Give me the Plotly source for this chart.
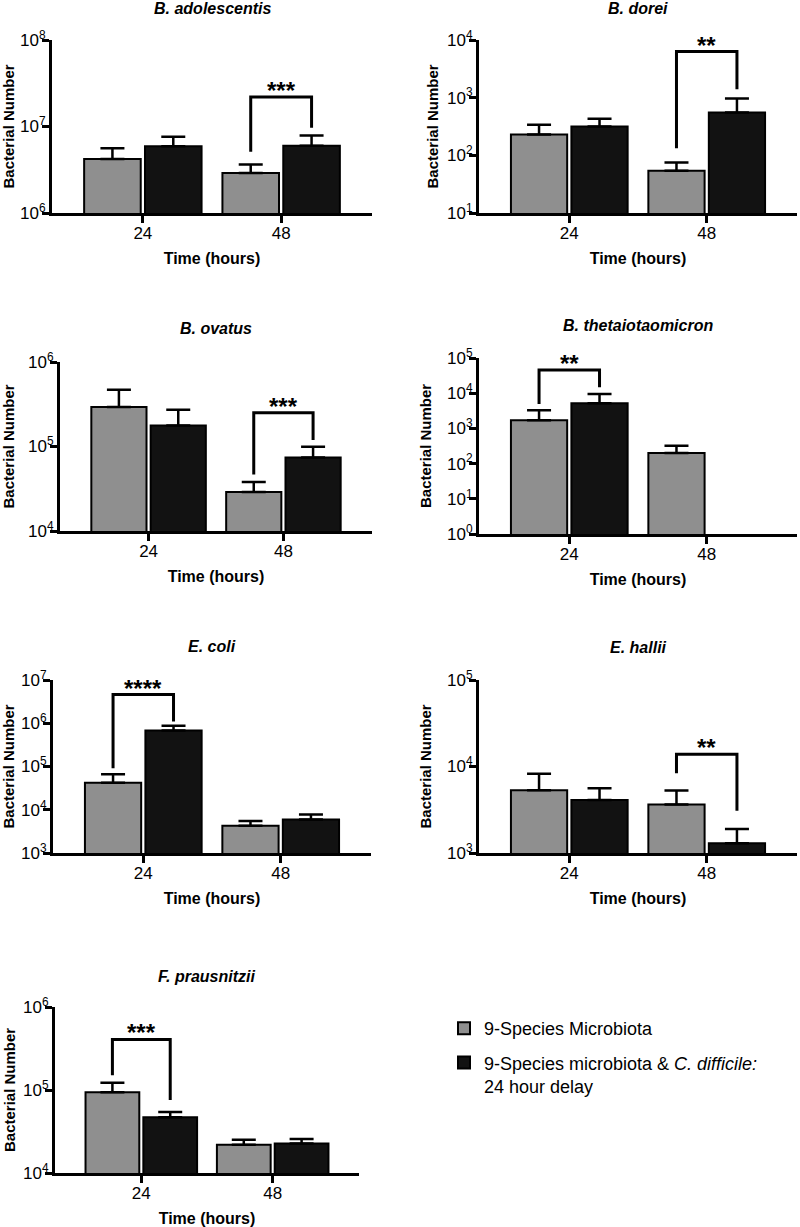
import math
import plotly.graph_objects as go

times = ["24", "48"]
species = ["B. adolescentis", "B. dorei", "B. ovatus", "B. thetaiotaomicron",
           "E. coli", "E. hallii", "F. prausnitzii"]

# 9-Species Microbiota (grey)
micro_mean = [[4.2e6, 2.9e6], [230, 54], [2.94e5, 2.9e4], [1700, 200],
              [42000, 4270], [5330, 3640], [93800, 21900]]
micro_err = [[1.4e6, 0.74e6], [108, 21], [1.76e5, 0.9e4], [1560, 123],
             [24500, 1200], [2900, 1640], [28200, 3200]]
# 9-Species microbiota & C. difficile: 24 hour delay (black)
cdiff_mean = [[5.93e6, 6.0e6], [316, 553], [1.77e5, 7.4e4], [5150, None],
              [6.77e5, 5980], [4090, 1300], [47000, 22700]]
cdiff_err = [[1.67e6, 1.87e6], [114, 413], [0.96e5, 2.5e4], [4340, None],
             [1.93e5, 1820], [1530, 590], [7500, 2900]]

# significance brackets: time index, label, top, left leg end, right leg end
sig_time = [1, 1, 1, 0, 0, 1, 0]
sig_label = ["***", "**", "***", "**", "****", "**", "***"]
sig_top = [2.2e7, 6300, 2.5e5, 45600, 4.6e6, 13900, 4.06e5]
sig_left = [5.1e6, 133, 4.67e4, 4930, 9.1e4, 8380, 1.51e5]
sig_right = [9.7e6, 1400, 1.19e5, 14700, 1.1e6, 3080, 7.6e4]

# y-axis decades (exponent range)
y_exp = [(6, 8), (1, 4), (4, 6), (0, 5), (3, 7), (3, 5), (4, 6)]

W, H = 800, 1227
# pixel boxes of each panel (x0, x1, ytop, ybottom)
boxes = [(52, 372, 40, 213), (479, 797, 40, 213),
         (60, 372, 362, 531), (479, 797, 358, 534),
         (53, 371, 680, 853), (479, 797, 680, 853),
         (55, 359, 1007, 1173)]
title_y = [9, 8, 328, 325, 646, 647, 976]
ytitle_x = [8, 432, 8, 425, 8, 425, 9]

GREY = "#8f8f8f"
BLACK = "#121212"
FONT = "Liberation Sans, Arial, sans-serif"
bargap, groupgap = 0.12, 0.07
off = (1 - bargap) / 4

fig = go.Figure()
layout = dict()
annotations = []

for i in range(7):
    ax = "" if i == 0 else str(i + 1)
    xa, ya = "x" + ax, "y" + ax
    x0, x1, yt, yb = boxes[i]
    fig.add_trace(go.Bar(
        x=[0, 1], y=micro_mean[i], xaxis=xa, yaxis=ya,
        name="9-Species Microbiota", legendgroup="a", showlegend=(i == 0),
        marker=dict(color=GREY, line=dict(color="black", width=2)),
        error_y=dict(type="data", array=micro_err[i], arrayminus=[0, 0],
                     symmetric=False, color="black", thickness=2.5, width=12),
    ))
    fig.add_trace(go.Bar(
        x=[0, 1], y=cdiff_mean[i], xaxis=xa, yaxis=ya,
        name="9-Species microbiota & <i>C. difficile:</i><br>24 hour delay",
        legendgroup="b", showlegend=(i == 0),
        marker=dict(color=BLACK, line=dict(color="black", width=2)),
        error_y=dict(type="data", array=cdiff_err[i], arrayminus=[0, 0],
                     symmetric=False, color="black", thickness=2.5, width=12),
    ))
    c = sig_time[i]
    fig.add_trace(go.Scatter(
        x=[c - off, c - off, c + off, c + off],
        y=[sig_left[i], sig_top[i], sig_top[i], sig_right[i]],
        xaxis=xa, yaxis=ya, mode="lines", showlegend=False, hoverinfo="skip",
        line=dict(color="black", width=3), cliponaxis=False,
    ))
    annotations.append(dict(
        text="<b>" + sig_label[i] + "</b>", xref=xa, yref=ya, x=c,
        y=math.log10(sig_top[i]), xanchor="center", yanchor="bottom",
        yshift=-9, showarrow=False, font=dict(size=24, color="black"),
    ))
    lo, hi = y_exp[i]
    layout["xaxis" + ax] = dict(
        domain=[x0 / W, x1 / W], anchor=ya, range=[-0.657, 1.657],
        tickvals=[0, 1], ticktext=times, showline=True, linewidth=3,
        linecolor="black", ticks="outside", tickwidth=3, ticklen=7,
        tickcolor="black", showgrid=False, zeroline=False, automargin=False,
        tickfont=dict(size=17, color="black"), ticklabelstandoff=-4,
        title=dict(text="<b>Time (hours)</b>", font=dict(size=16, color="black"),
                   standoff=11),
    )
    layout["yaxis" + ax] = dict(
        domain=[1 - yb / H, 1 - yt / H], anchor=xa, type="log",
        range=[lo, hi], tickvals=[10 ** k for k in range(lo, hi + 1)],
        ticktext=["10<sup>%d</sup>" % k for k in range(lo, hi + 1)],
        showline=True, linewidth=3, linecolor="black", ticks="outside",
        tickwidth=3, ticklen=7, tickcolor="black", showgrid=False,
        zeroline=False, automargin=False, tickfont=dict(size=17, color="black"),
        ticklabelstandoff=-7,
    )
    annotations.append(dict(
        text="<b>Bacterial Number</b>", xref="paper", yref="paper",
        x=ytitle_x[i] / W, y=1 - (yt + yb) / 2 / H, textangle=-90,
        xanchor="center", yanchor="middle", showarrow=False,
        font=dict(size=15, color="black"),
    ))
    annotations.append(dict(
        text="<b><i>" + species[i] + "</i></b>", xref="paper", yref="paper",
        x=(x0 + x1) / 2 / W, y=1 - title_y[i] / H, xanchor="center",
        yanchor="middle", showarrow=False, font=dict(size=16, color="black"),
    ))

fig.update_layout(
    **layout,
    annotations=annotations,
    width=W, height=H,
    margin=dict(l=0, r=0, t=0, b=0, autoexpand=False),
    plot_bgcolor="white", paper_bgcolor="white",
    font=dict(family=FONT, color="black"),
    barmode="group", bargap=bargap, bargroupgap=groupgap,
    legend=dict(x=0.555, y=1 - 1010 / H, xanchor="left", yanchor="top",
                font=dict(size=18, color="black"), valign="top",
                itemwidth=30, tracegroupgap=8, bgcolor="rgba(0,0,0,0)"),
)

fig.write_html("out.html", config={"displayModeBar": False},
               post_script="document.body.style.margin='0';")
